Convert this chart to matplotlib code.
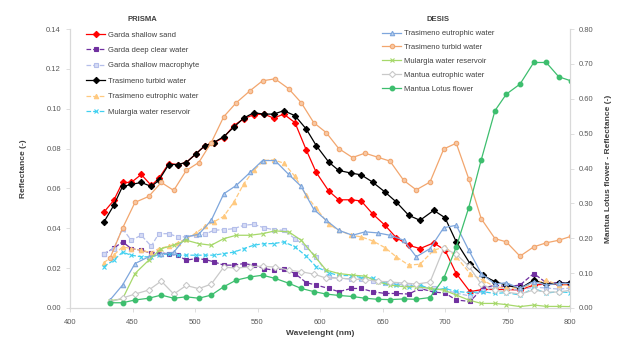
import matplotlib
matplotlib.use("Agg")
import matplotlib.pyplot as plt

# ---------------- data ----------------
wl_prisma = [427, 435, 442, 449, 457, 465, 471, 479, 486, 493,
             501, 508, 515, 523, 531, 539, 547, 555, 563, 571,
             580, 589, 597, 607, 615, 625, 633, 642, 652, 661,
             671, 680, 691, 700, 709, 720, 730, 740, 749, 760,
             771, 781, 791, 800]

wl_desis = [432, 442, 452, 463, 473, 483, 493, 503, 513, 523,
            533, 544, 554, 564, 575, 585, 595, 605, 615, 626,
            636, 646, 656, 667, 677, 688, 699, 709, 719, 729,
            740, 749, 760, 771, 781, 791, 801]

# PRISMA (left axis)
garda_sand = [0.048, 0.054, 0.063, 0.063, 0.067, 0.0615, 0.065, 0.0725, 0.072, 0.073,
              0.0775, 0.0815, 0.083, 0.0855, 0.0915, 0.095, 0.097, 0.0973, 0.0953, 0.0973,
              0.093, 0.0793, 0.068, 0.0587, 0.0543, 0.0543, 0.0537, 0.0473, 0.0415, 0.0353,
              0.0315, 0.0298, 0.0327, 0.029, 0.0173, 0.0082, 0.0093, 0.0093, 0.0093, 0.009,
              0.0115, 0.012, 0.0118, 0.0118]
garda_deep = [0.027, 0.030, 0.0332, 0.0298, 0.029, 0.0275, 0.028, 0.027, 0.0265, 0.024,
              0.0248, 0.0243, 0.0232, 0.0215, 0.0215, 0.0223, 0.0215, 0.0198, 0.019, 0.0198,
              0.0173, 0.0127, 0.0115, 0.0098, 0.0082, 0.0098, 0.0098, 0.0082, 0.0073, 0.0073,
              0.007, 0.0098, 0.008, 0.0075, 0.004, 0.0033, 0.0098, 0.0115, 0.0107, 0.0115,
              0.0173, 0.0127, 0.0127, 0.0127]
garda_macro = [0.0273, 0.0298, 0.0398, 0.034, 0.0365, 0.031, 0.0373, 0.0373, 0.0357, 0.0357,
               0.0365, 0.037, 0.039, 0.0393, 0.0398, 0.0415, 0.042, 0.0403, 0.0393, 0.039,
               0.0348, 0.0307, 0.0257, 0.0155, 0.015, 0.0145, 0.0145, 0.0135, 0.0125, 0.012,
               0.0115, 0.0105, 0.010, 0.009, 0.0075, 0.006, 0.0085, 0.0105, 0.0095, 0.009,
               0.0105, 0.010, 0.0095, 0.010]
tras_turbid_p = [0.043, 0.0515, 0.061, 0.062, 0.063, 0.061, 0.064, 0.072, 0.072, 0.073,
                 0.0775, 0.0815, 0.083, 0.086, 0.0907, 0.0953, 0.098, 0.0973, 0.0973, 0.099,
                 0.0965, 0.0898, 0.0815, 0.0732, 0.069, 0.0677, 0.0668, 0.0632, 0.0582, 0.0532,
                 0.0465, 0.044, 0.049, 0.0453, 0.0332, 0.0223, 0.0165, 0.0132, 0.0115, 0.0098,
                 0.014, 0.012, 0.0123, 0.0127]
tras_eutro_p = [0.0227, 0.0265, 0.0307, 0.0298, 0.029, 0.0277, 0.0298, 0.031, 0.0327, 0.0348,
                0.0377, 0.041, 0.0432, 0.046, 0.053, 0.0623, 0.069, 0.074, 0.0743, 0.0727,
                0.066, 0.0565, 0.050, 0.042, 0.039, 0.0365, 0.0357, 0.0337, 0.0303, 0.0257,
                0.0215, 0.022, 0.029, 0.0307, 0.0257, 0.0173, 0.014, 0.0107, 0.010, 0.010,
                0.012, 0.014, 0.0115, 0.0115]
mulargia_p = [0.0207, 0.024, 0.028, 0.0265, 0.0257, 0.0257, 0.0265, 0.0273, 0.0265, 0.0265,
              0.0265, 0.0265, 0.0265, 0.0273, 0.028, 0.0298, 0.0315, 0.0323, 0.0323, 0.0332,
              0.0307, 0.026, 0.0207, 0.0177, 0.0163, 0.0163, 0.0153, 0.015, 0.0123, 0.0115,
              0.0107, 0.0115, 0.009, 0.0098, 0.0083, 0.0077, 0.0082, 0.0073, 0.0077, 0.0065,
              0.0098, 0.0075, 0.0082, 0.0077]

# DESIS (left axis, lotus on right axis)
tras_eutro_d = [0.004, 0.0115, 0.0223, 0.0257, 0.027, 0.028, 0.0357, 0.037, 0.044, 0.0573,
                0.0615, 0.068, 0.074, 0.074, 0.067, 0.061, 0.0495, 0.044, 0.039, 0.0365,
                0.0382, 0.0377, 0.0365, 0.034, 0.0257, 0.0298, 0.0403, 0.0415, 0.029, 0.0173,
                0.012, 0.0127, 0.0098, 0.0132, 0.0115, 0.0123, 0.0123]
tras_turbid_d = [0.025, 0.040, 0.053, 0.056, 0.063, 0.059, 0.069, 0.073, 0.083, 0.096,
                 0.103, 0.109, 0.114, 0.115, 0.110, 0.103, 0.093, 0.088, 0.080, 0.0755,
                 0.0777, 0.0757, 0.0737, 0.064, 0.0593, 0.0632, 0.0798, 0.0827, 0.0648, 0.0448,
                 0.0348, 0.0332, 0.026, 0.0307, 0.0327, 0.034, 0.036]
mulargia_d = [0.0037, 0.0045, 0.0173, 0.024, 0.0298, 0.0315, 0.034, 0.0323, 0.0315, 0.0348,
              0.0365, 0.0365, 0.0373, 0.0387, 0.0382, 0.034, 0.0265, 0.019, 0.0173, 0.0165,
              0.016, 0.0132, 0.0115, 0.0107, 0.0107, 0.0098, 0.009, 0.0065, 0.004, 0.0023,
              0.0023, 0.0017, 0.0007, 0.0015, 0.0008, 0.0008, 0.0007]
mantua_eutro_d = [0.003, 0.005, 0.007, 0.009, 0.0135, 0.007, 0.0113, 0.0097, 0.012, 0.0205,
                  0.020, 0.0207, 0.021, 0.0205, 0.019, 0.0182, 0.017, 0.015, 0.015, 0.0145,
                  0.0142, 0.0135, 0.013, 0.0125, 0.012, 0.013, 0.030, 0.027, 0.021, 0.012,
                  0.009, 0.008, 0.007, 0.009, 0.008, 0.008, 0.009]
mantua_lotus = [0.015, 0.015, 0.023, 0.028, 0.037, 0.028, 0.032, 0.028, 0.037, 0.061,
                0.080, 0.089, 0.094, 0.085, 0.071, 0.056, 0.047, 0.040, 0.036, 0.033,
                0.028, 0.025, 0.024, 0.026, 0.025, 0.030, 0.085, 0.175, 0.288, 0.425,
                0.566, 0.613, 0.642, 0.704, 0.704, 0.663, 0.651]

prisma_labels = ["Garda shallow sand", "Garda deep clear water", "Garda shallow macrophyte",
                 "Trasimeno turbid water", "Trasimeno eutrophic water", "Mulargia water reservoir"]
desis_labels = ["Trasimeno eutrophic water", "Trasimeno turbid water", "Mulargia water reservoir",
                "Mantua eutrophic water", "Mantua Lotus flower"]

xticks = [400, 450, 500, 550, 600, 650, 700, 750, 800]
yticks_left = [0.00, 0.02, 0.04, 0.06, 0.08, 0.10, 0.12, 0.14]
yticks_right = [0.00, 0.10, 0.20, 0.30, 0.40, 0.50, 0.60, 0.70, 0.80]

# ---------------- figure ----------------
plt.rcParams['font.family'] = ['Liberation Sans', 'DejaVu Sans']
fig = plt.figure(figsize=(6.28, 3.40), dpi=100)
ax = fig.add_axes([70/628, 32/340, 500/628, 279/340])
ax2 = ax.twinx()

tick_col = '#595959'
spine_col = '#D9D9D9'

ms = 3.2
lw = 0.9
prisma_series = [garda_sand, garda_deep, garda_macro, tras_turbid_p, tras_eutro_p, mulargia_p]
prisma_styles = [
    dict(color='#FF0000', marker='D', ls='-', mfc='#FF0000'),
    dict(color='#7030A0', marker='s', ls='--', mfc='#7030A0'),
    dict(color='#B4BEEA', marker='s', ls='--', mfc='#D6DCF5'),
    dict(color='#000000', marker='D', ls='-', mfc='#000000'),
    dict(color='#FFC97F', marker='^', ls='--', mfc='#FFC97F'),
    dict(color='#40D0F0', marker='x', ls='--', mfc='#40D0F0'),
]
handles_p = []
for vals, lab, st in zip(prisma_series, prisma_labels, prisma_styles):
    h, = ax.plot(wl_prisma, vals, color=st['color'], ls=st['ls'], lw=lw,
                 marker=st['marker'], ms=ms, mfc=st['mfc'], mec=st['color'],
                 mew=0.8, label=lab)
    handles_p.append(h)

desis_series = [tras_eutro_d, tras_turbid_d, mulargia_d, mantua_eutro_d]
desis_styles = [
    dict(color='#7EA6DC', marker='^', mfc='#B8CFEE'),
    dict(color='#F2A66E', marker='o', mfc='#F7C8A4'),
    dict(color='#A6D86A', marker='x', mfc='#A6D86A'),
    dict(color='#C9C9C9', marker='D', mfc='white'),
]
handles_d = []
for vals, lab, st in zip(desis_series, desis_labels[:4], desis_styles):
    h, = ax.plot(wl_desis, vals, color=st['color'], ls='-', lw=lw,
                 marker=st['marker'], ms=ms, mfc=st['mfc'], mec=st['color'],
                 mew=0.8, label=lab)
    handles_d.append(h)

h, = ax2.plot(wl_desis, mantua_lotus, color='#3DBE6E', ls='-', lw=lw,
              marker='o', ms=ms, mfc='#3DBE6E', mec='#3DBE6E', label=desis_labels[4])
handles_d.append(h)

ax.set_xlim(400, 800)
ax.set_ylim(0, 0.14)
ax2.set_ylim(0, 0.80)
ax.set_xticks(xticks)
ax.set_xticklabels([str(v) for v in xticks])
ax.set_yticks(yticks_left)
ax.set_yticklabels([f"{v:.2f}" for v in yticks_left])
ax2.set_yticks(yticks_right)
ax2.set_yticklabels([f"{v:.2f}" for v in yticks_right])

for a in (ax, ax2):
    a.tick_params(labelsize=5.5, colors=tick_col, length=3, width=0.6, color=spine_col)
    for s in a.spines.values():
        s.set_color(spine_col)
        s.set_linewidth(0.8)
    a.spines['top'].set_visible(False)
ax.tick_params(axis='x', pad=5)

ax.set_xlabel("Wavelenght (nm)", fontsize=6, fontweight='bold', color='#404040', labelpad=3)
ax.set_ylabel("Reflectance (-)", fontsize=6, fontweight='bold', color='#404040', labelpad=14)
ax2.set_ylabel("Mantua Lotus flower - Reflectance (-)", fontsize=6, fontweight='bold',
               color='#404040', labelpad=8)

leg_kw = dict(loc='upper left', bbox_transform=fig.transFigure, frameon=False, fontsize=5.5,
              title_fontproperties={'size': 5.5, 'weight': 'bold'},
              handlelength=2.4, borderpad=0.2, handletextpad=0.4)
leg1 = ax2.legend(handles=handles_p, labels=prisma_labels, title="PRISMA",
                  bbox_to_anchor=(81/628, 1 - 11/340), labelspacing=1.05, **leg_kw)
leg1.get_title().set_color('#404040')
for t in leg1.get_texts():
    t.set_color('#404040')
ax2.add_artist(leg1)
leg2 = ax2.legend(handles=handles_d, labels=desis_labels, title="DESIS",
                  bbox_to_anchor=(377/628, 1 - 11/340), labelspacing=0.85, **leg_kw)
leg2.get_title().set_color('#404040')
for t in leg2.get_texts():
    t.set_color('#404040')

# clipped glyph from surrounding page at very top
fig.text(268/628, 1 + 7/340, "p", fontsize=22, family='Liberation Serif',
         fontweight='bold', va='baseline', ha='left', color='black')

fig.savefig("out.png", dpi=100)
